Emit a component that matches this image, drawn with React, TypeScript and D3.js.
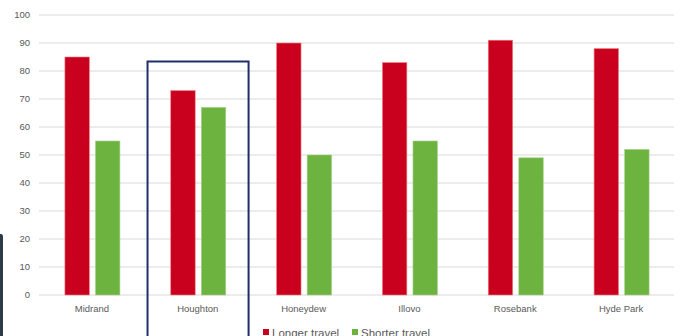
import React from "react";
import * as d3 from "d3";

const categories = ["Midrand", "Houghton", "Honeydew", "Illovo", "Rosebank", "Hyde Park"];
const longerTravel = [85, 73, 90, 83, 91, 88];
const shorterTravel = [55, 67, 50, 55, 49, 52];
const yTicks = [0, 10, 20, 30, 40, 50, 60, 70, 80, 90, 100];
const seriesNames = ["Longer travel", "Shorter travel"];
const seriesColors = ["#C9001E", "#6DB33F"];
const highlighted = "Houghton";

export default function App() {
  const W = 680, H = 336;
  const left = 39, right = 674, top = 15, bottom = 295;
  const x = d3.scaleBand<string>().domain(categories).range([left, right]).paddingInner(0).paddingOuter(0);
  const y = d3.scaleLinear().domain([0, 100]).range([bottom, top]);
  const groupW = 55;
  const inner = d3.scaleBand<number>().domain([0, 1]).range([0, groupW]).paddingInner(0.2);
  const groupOffset = (x.bandwidth() - groupW) / 2 + 0.5;
  const font = "'Liberation Sans', Arial, sans-serif";
  const hx = x(highlighted)!;
  const boxPad = 2;

  return (
    <svg width={W} height={H} style={{ position: "fixed", left: 0, top: 0, background: "#fff" }}>
      <rect x={0} y={0} width={W} height={H} fill="#fff" />
      {yTicks.map((t) => (
        <g key={t}>
          <line x1={left} x2={right} y1={y(t)} y2={y(t)} stroke="#D9D9D9" strokeWidth={1} />
          <text x={30} y={y(t)} dy="0.35em" textAnchor="end" fontSize={9.5} fill="#595959" fontFamily={font}>
            {t}
          </text>
        </g>
      ))}
      {categories.map((c, i) => {
        const gx = x(c)! + groupOffset;
        const vals = [longerTravel[i], shorterTravel[i]];
        return (
          <g key={c}>
            {vals.map((v, s) => (
              <rect
                key={s}
                x={gx + inner(s)!}
                y={y(v)}
                width={inner.bandwidth()}
                height={y(0) - y(v)}
                fill={seriesColors[s]}
                stroke={s === 0 ? "#F08080" : "#A9D18E"}
                strokeWidth={0.6}
              />
            ))}
            <text x={x(c)! + x.bandwidth() / 2} y={309} dy="0.35em" textAnchor="middle" fontSize={9.5} fill="#595959" fontFamily={font}>
              {c}
            </text>
          </g>
        );
      })}
      <rect x={hx + boxPad + 0.7} y={61.5} width={x.bandwidth() - 2 * boxPad - 0.8} height={290} fill="none" stroke="#1F2F6E" strokeWidth={2} />
      {seriesNames.map((n, s) => {
        const lx = s === 0 ? 263 : 352;
        return (
          <g key={n}>
            <rect x={lx} y={329} width={6} height={6} fill={seriesColors[s]} />
            <text x={lx + 9} y={337} fontSize={11.5} fill="#595959" fontFamily={font}>
              {n}
            </text>
          </g>
        );
      })}
      <path d="M0,234 L1,234 Q3,234 3,237 L3,336 L0,336 Z" fill="#2E3A48" />
    </svg>
  );
}
